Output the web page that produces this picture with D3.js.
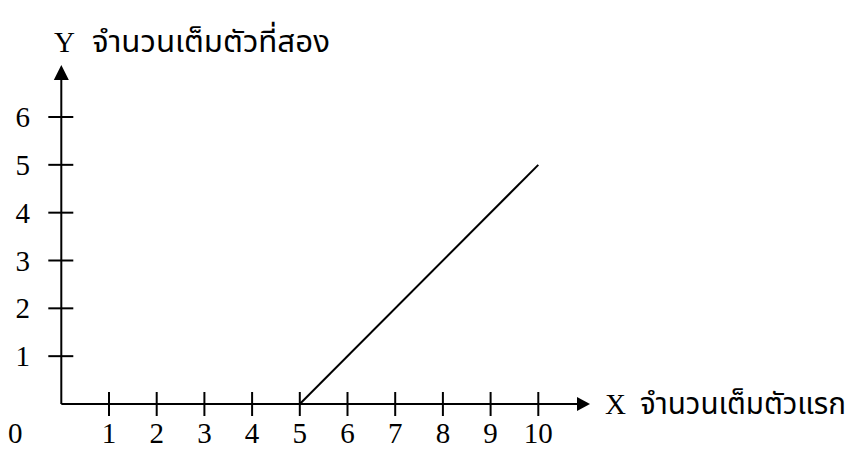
<!DOCTYPE html>
<html>
<head>
<meta charset="utf-8">
<script src="https://cdn.jsdelivr.net/npm/d3@7"></script>
<style>
  body { margin: 0; background: #fff; }
  .num { font-family: "Liberation Serif", "Times New Roman", serif; font-size: 29px; fill: #000; }
  .thai { font-family: "Noto Sans Thai", "Noto Sans", "DejaVu Sans", sans-serif; font-size: 30px; fill: #000; }
</style>
</head>
<body>
<svg width="852" height="450"></svg>
<script>
'use strict';
// data
let aXTicks = [1, 2, 3, 4, 5, 6, 7, 8, 9, 10]
let aYTicks = [1, 2, 3, 4, 5, 6]
let aLine = [{x: 5, y: 0}, {x: 10, y: 5}]
let sXName = "จำนวนเต็มตัวแรก"
let sYName = "จำนวนเต็มตัวที่สอง"

let eSvg = d3.select("svg")

let x = d3.scaleLinear().domain([0, 10]).range([61.3, 538.3])
let y = d3.scaleLinear().domain([0, 6]).range([404, 117])

let g = eSvg.append("g").attr("stroke", "#000").attr("stroke-width", 2)

// axis lines
g.append("line").attr("x1", x(0)).attr("y1", y(0)).attr("x2", 580).attr("y2", y(0))
g.append("line").attr("x1", x(0)).attr("y1", y(0)).attr("x2", x(0)).attr("y2", 78)

// arrows
eSvg.append("path").attr("fill", "#000")
	.attr("d", `M590,${y(0)} L577,${y(0) - 7} L577,${y(0) + 7} Z`)
eSvg.append("path").attr("fill", "#000")
	.attr("d", `M${x(0)},65 L${x(0) - 7.5},80 L${x(0) + 7.5},80 Z`)

// ticks crossing the axes
g.selectAll(".xt").data(aXTicks).enter().append("line")
	.attr("x1", d => x(d)).attr("x2", d => x(d))
	.attr("y1", y(0) - 12).attr("y2", y(0) + 12)
g.selectAll(".yt").data(aYTicks).enter().append("line")
	.attr("y1", d => y(d)).attr("y2", d => y(d))
	.attr("x1", x(0) - 13).attr("x2", x(0) + 12)

// tick labels
eSvg.selectAll(".xl").data(aXTicks).enter().append("text")
	.attr("class", "num").attr("text-anchor", "middle")
	.attr("x", d => x(d)).attr("y", 443).text(d => d)
eSvg.selectAll(".yl").data(aYTicks).enter().append("text")
	.attr("class", "num").attr("text-anchor", "end")
	.attr("x", 30).attr("y", d => y(d) + 10).text(d => d)
eSvg.append("text").attr("class", "num").attr("x", 8).attr("y", 443).text("0")

// the data line
eSvg.append("path").datum(aLine)
	.attr("fill", "none").attr("stroke", "#000").attr("stroke-width", 2)
	.attr("d", d3.line().x(d => x(d.x)).y(d => y(d.y)))

// axis names
eSvg.append("text").attr("class", "num").attr("x", 54).attr("y", 52).text("Y")
eSvg.append("text").attr("class", "thai").attr("x", 92).attr("y", 52)
	.attr("textLength", 238).attr("lengthAdjust", "spacingAndGlyphs").text(sYName)
eSvg.append("text").attr("class", "num").attr("x", 605).attr("y", 414).text("X")
eSvg.append("text").attr("class", "thai").attr("x", 640).attr("y", 414)
	.attr("textLength", 206).attr("lengthAdjust", "spacingAndGlyphs").text(sXName)
</script>
</body>
</html>
